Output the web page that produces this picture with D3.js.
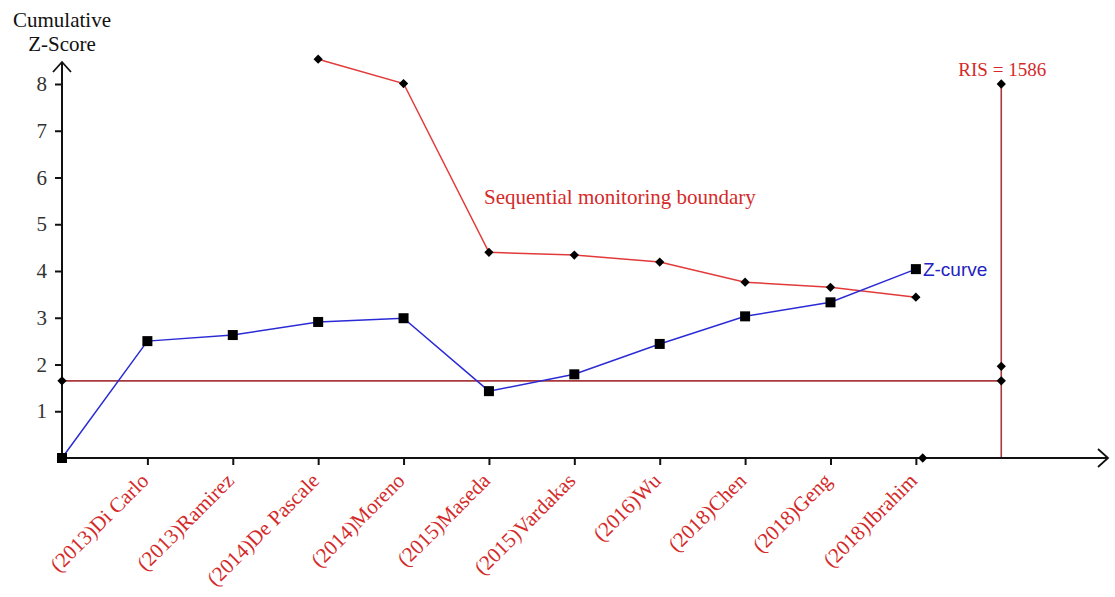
<!DOCTYPE html>
<html>
<head>
<meta charset="utf-8">
<script src="https://cdn.jsdelivr.net/npm/d3@7/dist/d3.min.js"></script>
<style>
  html, body { margin: 0; padding: 0; background: #fff; }
  svg { display: block; }
</style>
</head>
<body>
<svg id="chart" width="1115" height="597"></svg>
<script>
// Trials in order of publication (x positions 1..10; 0 is the origin)
const studies = [
  "(2013)Di Carlo", "(2013)Ramirez", "(2014)De Pascale", "(2014)Moreno",
  "(2015)Maseda", "(2015)Vardakas", "(2016)Wu", "(2018)Chen",
  "(2018)Geng", "(2018)Ibrahim"
];
// Cumulative Z-score after each trial, starting from the origin
const zCurve = [0, 2.50, 2.63, 2.91, 2.99, 1.43, 1.79, 2.44, 3.03, 3.33, 4.04];
// Sequential monitoring boundary (starts at the 3rd trial)
const boundaryIndex = [3, 4, 5, 6, 7, 8, 9, 10];
const boundary = [8.53, 8.01, 4.40, 4.34, 4.19, 3.76, 3.65, 3.44];
// Conventional significance threshold and required information size
const threshold = 1.65;
const risIndex = 11;
const risLabel = "RIS = 1586";
const risMarks = [8.0, 1.96, 1.65];
const axisMarkIndex = 10.08;
const yTicks = [1, 2, 3, 4, 5, 6, 7, 8];

const svg = d3.select("#chart");
const serif = "'Liberation Serif', 'Times New Roman', serif";
const sans = "'Liberation Sans', Arial, sans-serif";

const x = d3.scaleLinear().domain([0, 12.25]).range([62, 1108]);
const y = d3.scaleLinear().domain([0, 8]).range([458, 84]);

const redLine = "#e23a3a";
const darkRed = "#a8393c";
const blue = "#2b2bd6";
const labelRed = "#d42a2a";

// threshold line
svg.append("line")
  .attr("x1", x(0)).attr("x2", x(risIndex))
  .attr("y1", y(threshold)).attr("y2", y(threshold))
  .attr("stroke", darkRed).attr("stroke-width", 1.6);

// RIS vertical line
svg.append("line")
  .attr("x1", x(risIndex)).attr("x2", x(risIndex))
  .attr("y1", y(0)).attr("y2", y(8))
  .attr("stroke", darkRed).attr("stroke-width", 1.6);

// axes
const xAxis = d3.axisBottom(x)
  .tickValues(d3.range(1, studies.length + 1))
  .tickSize(7).tickFormat("");
const gx = svg.append("g").attr("transform", `translate(0,${y(0)})`).call(xAxis);
gx.select(".domain").remove();
gx.selectAll(".tick line").attr("stroke", "#111").attr("stroke-width", 2);

const yAxis = d3.axisLeft(y).tickValues(yTicks).tickSize(7).tickPadding(8);
const gy = svg.append("g").attr("transform", `translate(${x(0)},0)`).call(yAxis);
gy.select(".domain").remove();
gy.selectAll(".tick line").attr("stroke", "#111").attr("stroke-width", 2);
gy.selectAll(".tick text")
  .attr("font-family", serif).attr("font-size", 21).attr("fill", "#333");

// axis lines with open arrowheads
svg.append("line").attr("x1", x(0)).attr("x2", 1108)
  .attr("y1", y(0)).attr("y2", y(0)).attr("stroke", "#111").attr("stroke-width", 2);
svg.append("path").attr("d", `M1098,${y(0) - 9} L1108,${y(0)} L1098,${y(0) + 9}`)
  .attr("fill", "none").attr("stroke", "#111").attr("stroke-width", 1.8);
svg.append("line").attr("x1", x(0)).attr("x2", x(0))
  .attr("y1", y(0)).attr("y2", 62).attr("stroke", "#111").attr("stroke-width", 2);
svg.append("path").attr("d", `M${x(0) - 9},72 L${x(0)},62 L${x(0) + 9},72`)
  .attr("fill", "none").attr("stroke", "#111").attr("stroke-width", 1.8);

// x labels, rotated
gx.selectAll(".tick").append("text")
  .text((d, i) => studies[i])
  .attr("font-family", serif).attr("font-size", 21).attr("fill", labelRed)
  .attr("text-anchor", "end")
  .attr("transform", "translate(2,24) rotate(-45)");

// y axis title
svg.append("text").attr("x", x(0)).attr("y", 27).attr("text-anchor", "middle")
  .attr("font-family", serif).attr("font-size", 21).attr("fill", "#111").text("Cumulative");
svg.append("text").attr("x", x(0)).attr("y", 51).attr("text-anchor", "middle")
  .attr("font-family", serif).attr("font-size", 21).attr("fill", "#111").text("Z-Score");

// boundary curve
const bPts = boundary.map((v, i) => [boundaryIndex[i], v]);
svg.append("path").datum(bPts)
  .attr("d", d3.line().x(d => x(d[0])).y(d => y(d[1])))
  .attr("fill", "none").attr("stroke", redLine).attr("stroke-width", 1.5);

// Z-curve
const zPts = zCurve.map((v, i) => [i, v]);
svg.append("path").datum(zPts)
  .attr("d", d3.line().x(d => x(d[0])).y(d => y(d[1])))
  .attr("fill", "none").attr("stroke", blue).attr("stroke-width", 1.5);

// diamond markers
const diamond = d3.symbol().type(d3.symbolDiamond2).size(55);
const diamonds = bPts
  .concat(risMarks.map(v => [risIndex, v]))
  .concat([[0, threshold], [axisMarkIndex, 0]]);
svg.selectAll(".dia").data(diamonds).join("path")
  .attr("class", "dia")
  .attr("d", diamond)
  .attr("transform", d => `translate(${x(d[0])},${y(d[1])})`)
  .attr("fill", "#000");

// square markers
svg.selectAll(".sq").data(zPts).join("rect")
  .attr("class", "sq")
  .attr("x", d => x(d[0]) - 5).attr("y", d => y(d[1]) - 5)
  .attr("width", 10).attr("height", 10).attr("fill", "#000");

// annotations
svg.append("text").attr("x", 484).attr("y", 204)
  .attr("font-family", serif).attr("font-size", 21).attr("fill", labelRed)
  .text("Sequential monitoring boundary");
svg.append("text").attr("x", x(10) + 7).attr("y", y(4.04) + 7)
  .attr("font-family", sans).attr("font-size", 19).attr("fill", "#2222c0")
  .text("Z-curve");
svg.append("text").attr("x", x(risIndex) + 1).attr("y", 76).attr("text-anchor", "middle")
  .attr("font-family", serif).attr("font-size", 19).attr("fill", labelRed)
  .text(risLabel);
</script>
</body>
</html>
